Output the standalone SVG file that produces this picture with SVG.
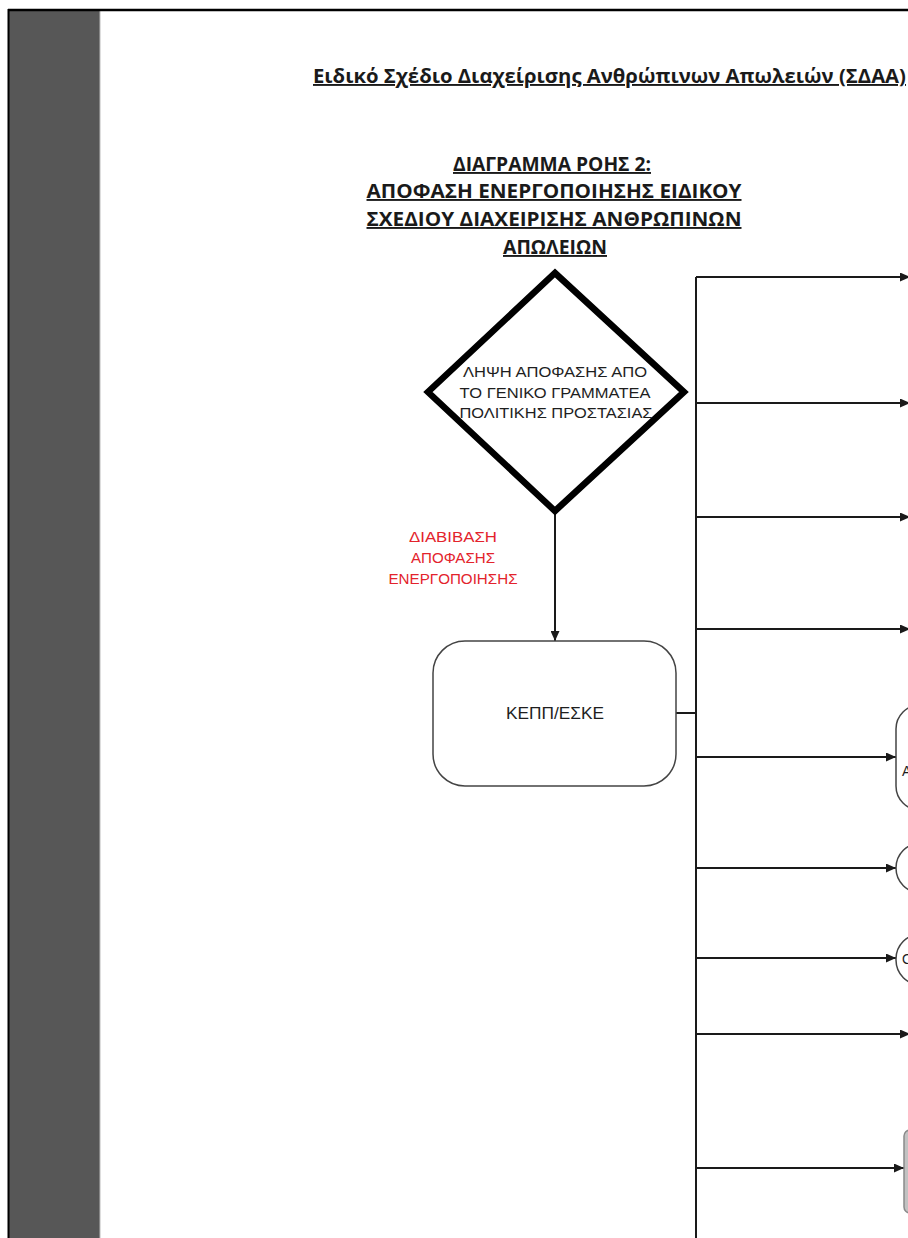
<svg xmlns="http://www.w3.org/2000/svg" width="908" height="1238" viewBox="0 0 908 1238">
<defs>
<style>
.hd{font-family:"Open Sans","Liberation Sans",sans-serif;font-weight:bold;fill:#1a1a1a;text-decoration:underline;}
.ar{font-family:"Liberation Sans",Arial,sans-serif;fill:#1e1e1e;}
.red{font-family:"Liberation Sans",Arial,sans-serif;fill:#e3232c;font-size:15px;}
.ln{stroke:#1a1a1a;stroke-width:2;fill:none;}
.box{fill:#fff;stroke:#444;stroke-width:1.5;}
</style>
<marker id="ah" markerUnits="userSpaceOnUse" markerWidth="11" markerHeight="9" refX="10" refY="4.5" orient="auto">
<path d="M0,0 L10,4.5 L0,9 z" fill="#1a1a1a"/>
</marker>
</defs>
<rect width="908" height="1238" fill="#fff"/>
<rect x="8" y="9" width="92" height="1229" fill="#575757"/>
<line x1="100" y1="11" x2="100" y2="1238" stroke="#bbb" stroke-width="1"/>
<line x1="8" y1="10" x2="908" y2="10" stroke="#000" stroke-width="2.5"/>
<line x1="8.5" y1="9" x2="8.5" y2="1238" stroke="#000" stroke-width="2"/>

<g id="title">
<text class="hd" x="313" y="83" font-size="19" textLength="593" lengthAdjust="spacingAndGlyphs">Ειδικό Σχέδιο Διαχείρισης Ανθρώπινων Απωλειών (ΣΔΑΑ)</text>
</g>
<g id="heading">
<text class="hd" x="552" y="171" font-size="19" text-anchor="middle" textLength="198" lengthAdjust="spacingAndGlyphs">ΔΙΑΓΡΑΜΜΑ ΡΟΗΣ 2:</text>
<text class="hd" x="554" y="198" font-size="19" text-anchor="middle" textLength="375" lengthAdjust="spacingAndGlyphs">ΑΠΟΦΑΣΗ ΕΝΕΡΓΟΠΟΙΗΣΗΣ ΕΙΔΙΚΟΥ</text>
<text class="hd" x="554" y="226" font-size="19" text-anchor="middle" textLength="375" lengthAdjust="spacingAndGlyphs">ΣΧΕΔΙΟΥ ΔΙΑΧΕΙΡΙΣΗΣ ΑΝΘΡΩΠΙΝΩΝ</text>
<text class="hd" x="555" y="254" font-size="19" text-anchor="middle" textLength="104" lengthAdjust="spacingAndGlyphs">ΑΠΩΛΕΙΩΝ</text>
</g>

<g id="connectors">
<path class="ln" d="M696,277 V1238"/>
<path class="ln" d="M696,277 H910" marker-end="url(#ah)"/>
<path class="ln" d="M696,403 H910" marker-end="url(#ah)"/>
<path class="ln" d="M696,517 H910" marker-end="url(#ah)"/>
<path class="ln" d="M696,629 H910" marker-end="url(#ah)"/>
<path class="ln" d="M676,713 H696"/>
<path class="ln" d="M696,757 H896" marker-end="url(#ah)"/>
<path class="ln" d="M696,868 H896" marker-end="url(#ah)"/>
<path class="ln" d="M696,958 H896" marker-end="url(#ah)"/>
<path class="ln" d="M696,1034 H910" marker-end="url(#ah)"/>
<path class="ln" d="M696,1168 H904" marker-end="url(#ah)"/>
<path class="ln" d="M555,512 V641" marker-end="url(#ah)"/>
</g>

<g id="decision">
<polygon points="555,273 684,392 555,511 428,392" fill="#fff" stroke="#000" stroke-width="6.5" stroke-linejoin="miter"/>
<text class="ar" x="555" y="377" font-size="14" text-anchor="middle" textLength="184" lengthAdjust="spacingAndGlyphs">ΛΗΨΗ ΑΠΟΦΑΣΗΣ ΑΠΟ</text>
<text class="ar" x="555" y="398" font-size="14" text-anchor="middle" textLength="191" lengthAdjust="spacingAndGlyphs">ΤΟ ΓΕΝΙΚΟ ΓΡΑΜΜΑΤΕΑ</text>
<text class="ar" x="556" y="418" font-size="14" text-anchor="middle" textLength="193" lengthAdjust="spacingAndGlyphs">ΠΟΛΙΤΙΚΗΣ ΠΡΟΣΤΑΣΙΑΣ</text>
</g>

<g id="label-transmit">
<text class="red" x="453" y="542" text-anchor="middle" textLength="88" lengthAdjust="spacingAndGlyphs">ΔΙΑΒΙΒΑΣΗ</text>
<text class="red" x="453" y="563" text-anchor="middle" textLength="84" lengthAdjust="spacingAndGlyphs">ΑΠΟΦΑΣΗΣ</text>
<text class="red" x="453" y="584" text-anchor="middle" textLength="129" lengthAdjust="spacingAndGlyphs">ΕΝΕΡΓΟΠΟΙΗΣΗΣ</text>
</g>

<g id="kepp">
<rect class="box" x="433" y="641" width="243" height="145" rx="32" ry="32" stroke="#333"/>
<text class="ar" x="555" y="719" font-size="16" text-anchor="middle" textLength="98" lengthAdjust="spacingAndGlyphs">ΚΕΠΠ/ΕΣΚΕ</text>
</g>

<g id="target-a">
<rect class="box" x="896" y="705" width="60" height="105" rx="24" ry="24"/>
<text class="ar" x="902" y="776" font-size="14" fill="#5a4530">Α</text>
</g>
<g id="target-b">
<rect class="box" x="896" y="843" width="60" height="50" rx="25" ry="25"/>
</g>
<g id="target-c">
<rect class="box" x="896" y="934" width="60" height="51" rx="25" ry="25"/>
<text class="ar" x="902" y="964" font-size="14" fill="#3d5680">Ο</text>
</g>
<g id="target-e">
<rect x="904" y="1130" width="40" height="83" rx="6" ry="6" fill="#c2c2c2" stroke="#8a8a8a" stroke-width="1.5"/>
</g>
</svg>
